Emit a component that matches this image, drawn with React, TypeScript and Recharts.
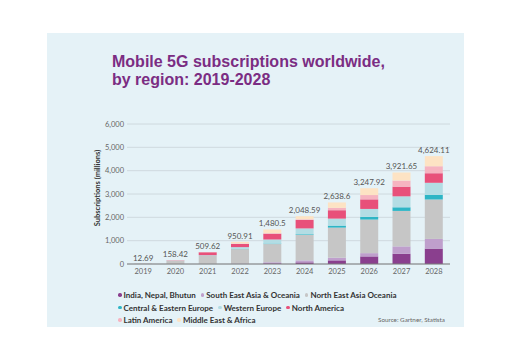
import { BarChart, Bar, XAxis, YAxis, CartesianGrid, LabelList } from "recharts";

const years = ["2019", "2020", "2021", "2022", "2023", "2024", "2025", "2026", "2027", "2028"];

// subscriptions in millions, per region
const india = [0, 0, 1, 3, 30, 70, 155, 325, 440, 660];
const seAsia = [0, 1.5, 6, 15, 45, 85, 115, 140, 315, 415];
const neAsia = [10.5, 140, 355, 620, 780, 1090, 1290, 1440, 1520, 1690];
const ceEurope = [0, 1, 3, 15, 20, 30, 85, 115, 155, 200];
const wEurope = [0.5, 4, 12, 70, 175, 250, 300, 340, 470, 515];
const nAmerica = [1.5, 10, 125, 135, 250, 360, 360, 410, 415, 410];
const latAmerica = [0, 0.5, 3, 20, 15, 30, 100, 185, 260, 300];
const meAfrica = [0.19, 1.42, 4.62, 72.91, 165.5, 133.59, 233.6, 292.92, 346.65, 434.11];

const yTicks = [0, 1000, 2000, 3000, 4000, 5000, 6000];

const series = [
  { key: "india", name: "India, Nepal, Bhutun", values: india, color: "#8a3f8e" },
  { key: "seAsia", name: "South East Asia & Oceania", values: seAsia, color: "#bf9fcc" },
  { key: "neAsia", name: "North East Asia Oceania", values: neAsia, color: "#c6c6c6" },
  { key: "ceEurope", name: "Central & Eastern Europe", values: ceEurope, color: "#2db5c5" },
  { key: "wEurope", name: "Western Europe", values: wEurope, color: "#b3dde4" },
  { key: "nAmerica", name: "North America", values: nAmerica, color: "#e8507a" },
  { key: "latAmerica", name: "Latin America", values: latAmerica, color: "#f6b3c0" },
  { key: "meAfrica", name: "Middle East & Africa", values: meAfrica, color: "#fde3c4" },
];

const data = years.map((year, i) => {
  const row: Record<string, number | string> = { year };
  let total = 0;
  series.forEach((s) => {
    row[s.key] = s.values[i];
    total += s.values[i];
  });
  row.total = Math.round(total * 100) / 100;
  return row;
});

const legendRows = [series.slice(0, 3), series.slice(3, 6), series.slice(6)];

const font = "Lato, 'Open Sans', sans-serif";

const titleStyle = {
  position: "absolute" as const,
  left: 112,
  fontFamily: "'Liberation Sans', Arial, sans-serif",
  fontSize: 16,
  lineHeight: "16px",
  fontWeight: 700,
  color: "#7b2d83",
  whiteSpace: "nowrap" as const,
};

export default function App() {
  return (
    <div style={{ position: "absolute", left: 0, top: 0, width: 512, height: 361, background: "#fff", fontFamily: font }}>
      <div style={{ position: "absolute", left: 47, top: 33, width: 417, height: 294, background: "#e5f2f7" }} />
      <div style={{ ...titleStyle, top: 54 }}>Mobile 5G subscriptions worldwide,</div>
      <div style={{ ...titleStyle, top: 72 }}>by region: 2019-2028</div>
      <div
        style={{
          position: "absolute",
          left: 97,
          top: 188,
          transform: "translate(-50%, -50%) rotate(-90deg)",
          fontSize: 7.5,
          fontWeight: 700,
          color: "#333",
          whiteSpace: "nowrap",
        }}
      >
        Subscriptions (millions)
      </div>
      <div style={{ position: "absolute", left: 0, top: 0 }}>
        <BarChart
          width={512}
          height={361}
          data={data}
          margin={{ top: 124, right: 62, bottom: 77, left: 87 }}
          barCategoryGap="22%"
        >
          <CartesianGrid vertical={false} stroke="#c9d3d8" strokeWidth={0.8} />
          <XAxis
            dataKey="year"
            height={20}
            tickLine={false}
            tickMargin={5}
            tickSize={0}
            axisLine={{ stroke: "#7d7d7d" }}
            tick={{ fontSize: 7.5, fill: "#666", fontFamily: font }}
            interval={0}
          />
          <YAxis
            width={40}
            domain={[0, 6000]}
            ticks={yTicks}
            tickLine={false}
            axisLine={false}
            tickSize={0}
            tickMargin={3}
            tickFormatter={(v) => v.toLocaleString("en-US")}
            tick={{ fontSize: 7.5, fill: "#666", fontFamily: font }}
          />
          {series.map((s, i) => (
            <Bar key={s.key} dataKey={s.key} stackId="a" fill={s.color} isAnimationActive={false}>
              {i === series.length - 1 && (
                <LabelList
                  dataKey="total"
                  position="top"
                  offset={3}
                  formatter={(v: any) => Number(v).toLocaleString("en-US", { maximumFractionDigits: 2 })}
                  style={{ fontSize: 8, fill: "#555", fontFamily: font }}
                />
              )}
            </Bar>
          ))}
        </BarChart>
      </div>
      <div style={{ position: "absolute", left: 118, top: 289, fontSize: 8, fontWeight: 700, color: "#333", lineHeight: "12.5px" }}>
        {legendRows.map((row, r) => (
          <div key={r} style={{ whiteSpace: "nowrap" }}>
            {row.map((s) => (
              <span key={s.key} style={{ marginRight: 5 }}>
                <span
                  style={{
                    display: "inline-block",
                    width: 3.5,
                    height: 3.5,
                    borderRadius: "50%",
                    background: s.color,
                    marginRight: 2,
                    verticalAlign: "middle",
                    position: "relative",
                    top: -1,
                  }}
                />
                {s.name}
              </span>
            ))}
          </div>
        ))}
      </div>
      <div style={{ position: "absolute", left: 378, top: 316, fontSize: 6.3, color: "#666" }}>Source: Gartner, Statista</div>
    </div>
  );
}
